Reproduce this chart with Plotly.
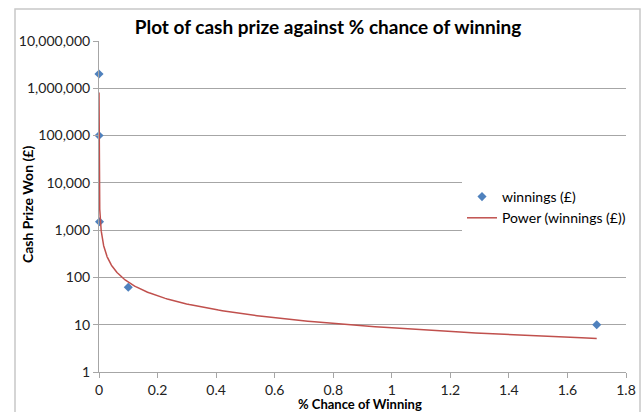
import numpy as np
import plotly.graph_objects as go

# Data
chance_pct = [0.00000715, 0.0000429, 0.0018, 0.1, 1.7]
winnings = [2000000, 100000, 1500, 62, 10]
x_ticks = [0, 0.2, 0.4, 0.6, 0.8, 1, 1.2, 1.4, 1.6, 1.8]
y_ticks = [1, 10, 100, 1000, 10000, 100000, 1000000, 10000000]

# Power trendline (least-squares fit in log-log space, as Excel does)
b, ln_a = np.polyfit(np.log(chance_pct), np.log(winnings), 1)
xs = np.geomspace(min(chance_pct), max(chance_pct), 400)
ys = np.exp(ln_a) * xs ** b

FONT = "Lato, 'Open Sans', sans-serif"
BLUE = "#4F81BD"
RED = "#C0504D"
GRID = "#A6A6A6"

fig = go.Figure()
fig.add_trace(go.Scatter(
    x=chance_pct, y=winnings, mode="markers", name="winnings (£)",
    marker=dict(symbol="diamond", size=7, color=BLUE),
    cliponaxis=False,
))
fig.add_trace(go.Scatter(
    x=xs, y=ys, mode="lines", name="Power (winnings (£))",
    line=dict(color=RED, width=1.5),
))

L, R, T, B = 99, 17, 41, 40
W, H = 643, 412
pw, ph = W - L - R, H - T - B

def px_x(p):
    return (p - L) / pw

def px_y(p):
    return (H - B - p) / ph

fig.update_layout(
    width=W, height=H,
    margin=dict(l=L, r=R, t=T, b=B, autoexpand=False),
    paper_bgcolor="white", plot_bgcolor="white",
    font=dict(family=FONT, size=12, color="#222222"),
    title=dict(text="<b>Plot of cash prize against % chance of winning</b>",
               xref="container", x=328 / W, xanchor="center",
               yref="container", y=1 - 27 / H, yanchor="middle",
               font=dict(size=19, color="black", family=FONT)),
    showlegend=True,
    legend=dict(x=px_x(462), y=px_y(181), xanchor="left", yanchor="top",
                bgcolor="white", font=dict(size=14, color="black"),
                itemwidth=30, tracegroupgap=0),
    xaxis=dict(range=[0, 1.8], tickvals=x_ticks,
               ticktext=[f"{v:g}" for v in x_ticks],
               showgrid=False, zeroline=False, showline=True,
               linecolor=GRID, linewidth=1, ticks="outside", ticklen=5,
               tickcolor=GRID, tickfont=dict(size=14), automargin=False),
    yaxis=dict(type="log", range=[0, 7], tickvals=y_ticks,
               ticktext=[f"{v:,}" for v in y_ticks],
               showgrid=True, gridcolor=GRID, gridwidth=1,
               zeroline=False, showline=True, linecolor=GRID,
               ticks="outside", ticklen=5, tickcolor=GRID,
               tickfont=dict(size=14), automargin=False),
    annotations=[
        dict(text="<b>% Chance of Winning</b>", xref="paper", yref="paper",
             x=px_x(360), y=px_y(404), xanchor="center", yanchor="middle",
             showarrow=False, font=dict(size=13, color="black")),
        dict(text="<b>Cash Prize Won (£)</b>", xref="paper", yref="paper",
             x=px_x(27), y=px_y(205), xanchor="center", yanchor="middle",
             textangle=-90, showarrow=False,
             font=dict(size=14, color="black")),
    ],
    shapes=[dict(type="rect", xref="paper", yref="paper",
                 x0=px_x(15), x1=px_x(640), y0=px_y(430), y1=px_y(9),
                 line=dict(color="#C8C8C8", width=1.5), layer="above")],
)

fig.write_html("out.html",
               config={"displayModeBar": False},
               post_script="document.body.style.margin='0';"
                           "document.body.style.overflow='hidden';")
